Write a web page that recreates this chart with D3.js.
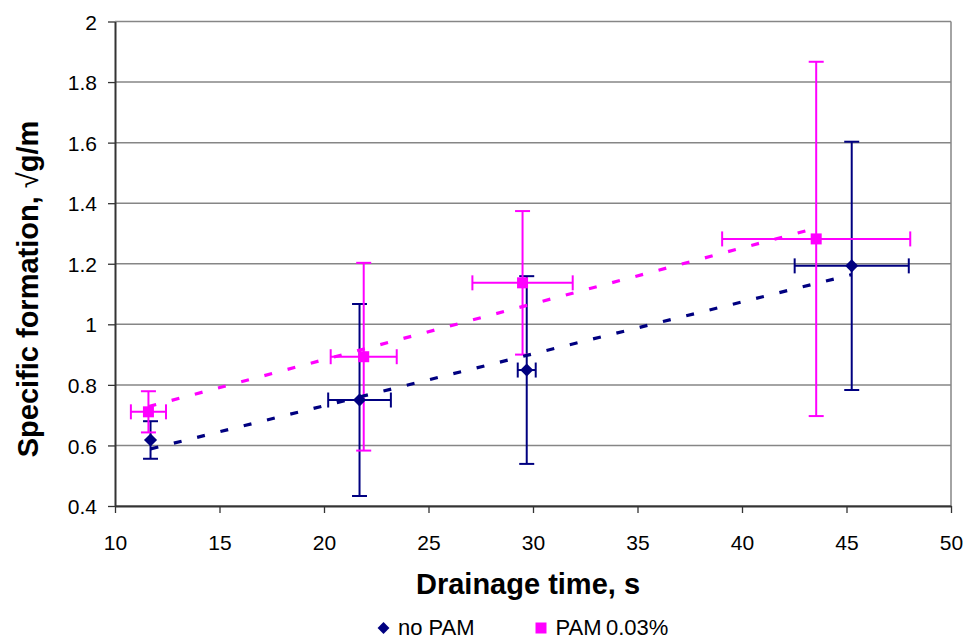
<!DOCTYPE html>
<html>
<head>
<meta charset="utf-8">
<script src="https://cdn.jsdelivr.net/npm/d3@7"></script>
<style>
  body { margin: 0; background: #fff; }
  svg { display: block; font-family: "Liberation Sans", Arial, sans-serif; }
  .tick text { font-size: 21px; fill: #000; }
  .axis-title { font-size: 29px; font-weight: bold; fill: #000; }
  .legend-label { font-size: 22px; fill: #000; }
</style>
</head>
<body>
<div id="chart"></div>
<script>
const SERIES = ["noPam", "pam"];
const SERIES_LABELS = { noPam: "no PAM", pam: "PAM\u20090.03%" };
const COLOR = { noPam: "#000080", pam: "#ff00ff" };

// drainage time, s
const noPamX    = [11.7, 21.7, 29.7, 45.25];
const noPamXErr = [0, 1.5, 0.43, 2.73];
// specific formation
const noPamY    = [0.618, 0.75, 0.849, 1.193];
const noPamYErr = [0.062, 0.317, 0.31, 0.41];

const pamX    = [11.6, 21.9, 29.5, 43.55];
const pamXErr = [0.84, 1.58, 2.4, 4.5];
const pamY    = [0.711, 0.893, 1.137, 1.282];
const pamYErr = [0.068, 0.31, 0.237, 0.585];

const xTicks = [10, 15, 20, 25, 30, 35, 40, 45, 50];
const yTicks = [0.4, 0.6, 0.8, 1, 1.2, 1.4, 1.6, 1.8, 2];

const W = 971, H = 639;
const M = { top: 21.5, right: 20, bottom: 133, left: 115 };
const iW = W - M.left - M.right;
const iH = H - M.top - M.bottom;

const makeRows = (xs, xe, ys, ye) => xs.map((x, i) => ({ x, xErr: xe[i], y: ys[i], yErr: ye[i] }));
const data = {
  noPam: makeRows(noPamX, noPamXErr, noPamY, noPamYErr),
  pam:   makeRows(pamX, pamXErr, pamY, pamYErr)
};

const svg = d3.select("#chart").append("svg")
  .attr("width", W).attr("height", H)
  .attr("viewBox", `0 0 ${W} ${H}`);

const g = svg.append("g").attr("transform", `translate(${M.left},${M.top})`);

const x = d3.scaleLinear().domain([10, 50]).range([0, iW]);
const y = d3.scaleLinear().domain([0.4, 2]).range([iH, 0]);

// gridlines
g.append("g").selectAll("line")
  .data(yTicks)
  .join("line")
  .attr("x1", 0).attr("x2", iW)
  .attr("y1", d => y(d)).attr("y2", d => y(d))
  .attr("stroke", "#868686").attr("stroke-width", 1.5);

g.append("line")
  .attr("x1", iW).attr("x2", iW).attr("y1", 0).attr("y2", iH)
  .attr("stroke", "#868686").attr("stroke-width", 1.5);

// axes
const xAxisG = g.append("g").attr("transform", `translate(0,${iH})`)
  .call(d3.axisBottom(x).tickValues(xTicks).tickFormat(d3.format("d"))
    .tickSizeInner(7).tickSizeOuter(0).tickPadding(22));
const yAxisG = g.append("g")
  .call(d3.axisLeft(y).tickValues(yTicks).tickFormat(d3.format("~g"))
    .tickSizeInner(7).tickSizeOuter(0).tickPadding(11));

[xAxisG, yAxisG].forEach(a => {
  a.select(".domain").attr("stroke", "#333").attr("stroke-width", 2);
  a.selectAll(".tick line").attr("stroke", "#333").attr("stroke-width", 1.3);
  a.selectAll(".tick text").attr("font-family", null).attr("font-size", null);
});
yAxisG.selectAll(".tick text").attr("dy", "0.36em");

// error bars
const CAP = 7.5;
SERIES.forEach(sc => {
  const eg = g.append("g")
    .attr("stroke", COLOR[sc]).attr("stroke-width", 2).attr("fill", "none");
  data[sc].forEach(d => {
    const cx = x(d.x), cy = y(d.y);
    const yt = y(d.y + d.yErr), yb = y(d.y - d.yErr);
    eg.append("line").attr("x1", cx).attr("x2", cx).attr("y1", yt).attr("y2", yb);
    eg.append("line").attr("x1", cx - CAP).attr("x2", cx + CAP).attr("y1", yt).attr("y2", yt);
    eg.append("line").attr("x1", cx - CAP).attr("x2", cx + CAP).attr("y1", yb).attr("y2", yb);
    if (d.xErr > 0) {
      const xl = x(d.x - d.xErr), xr = x(d.x + d.xErr);
      eg.append("line").attr("x1", xl).attr("x2", xr).attr("y1", cy).attr("y2", cy);
      eg.append("line").attr("x1", xl).attr("x2", xl).attr("y1", cy - CAP).attr("y2", cy + CAP);
      eg.append("line").attr("x1", xr).attr("x2", xr).attr("y1", cy - CAP).attr("y2", cy + CAP);
    }
  });
});

// linear trendlines (least squares through each series)
SERIES.forEach(sc => {
  const rows = data[sc];
  const mx = d3.mean(rows, d => d.x), my = d3.mean(rows, d => d.y);
  const slope = d3.sum(rows, d => (d.x - mx) * (d.y - my)) / d3.sum(rows, d => (d.x - mx) ** 2);
  const icpt = my - slope * mx;
  const [x0, x1] = d3.extent(rows, d => d.x);
  g.append("line")
    .attr("x1", x(x0)).attr("y1", y(icpt + slope * x0))
    .attr("x2", x(x1)).attr("y2", y(icpt + slope * x1))
    .attr("stroke", COLOR[sc]).attr("stroke-width", 3.2)
    .attr("stroke-dasharray", "8,16");
});

// markers
const diamond = d3.symbol().type(d3.symbolDiamond2).size(110);
const square = d3.symbol().type(d3.symbolSquare).size(121);
const shape = { noPam: diamond, pam: square };

SERIES.forEach(sc => {
  g.append("g").selectAll("path")
    .data(data[sc])
    .join("path")
    .attr("transform", d => `translate(${x(d.x)},${y(d.y)})`)
    .attr("d", shape[sc]())
    .attr("fill", COLOR[sc]);
});

// axis titles
svg.append("text").attr("class", "axis-title")
  .attr("x", 528).attr("y", 594)
  .attr("text-anchor", "middle")
  .text("Drainage time, s");

const yt = svg.append("text").attr("class", "axis-title")
  .attr("transform", "translate(38,289) rotate(-90)")
  .attr("text-anchor", "middle");
yt.append("tspan").text("Specific formation, ");
yt.append("tspan").attr("font-weight", "normal").text("\u221A");
yt.append("tspan").text("g/m");

// legend
const legend = svg.append("g");
const legendPos = { noPam: 383.5, pam: 541 };
SERIES.forEach(sc => {
  const lx = legendPos[sc];
  legend.append("path")
    .attr("transform", `translate(${lx},628)`)
    .attr("d", (sc === "noPam" ? d3.symbol().type(d3.symbolDiamond2).size(90) : d3.symbol().type(d3.symbolSquare).size(121))())
    .attr("fill", COLOR[sc]);
  legend.append("text").attr("class", "legend-label")
    .attr("x", lx + 14.5).attr("y", 635)
    .text(SERIES_LABELS[sc]);
});
</script>
</body>
</html>
